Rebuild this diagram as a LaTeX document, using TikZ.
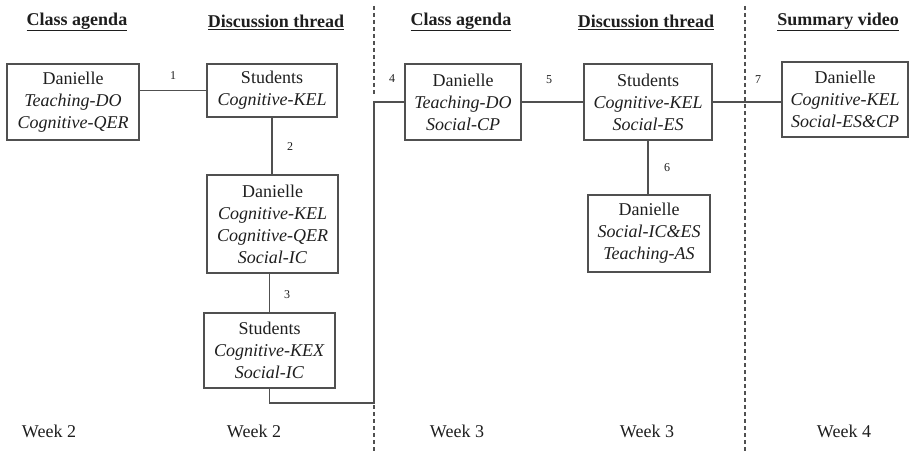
\documentclass[tikz,border=0pt]{standalone}
\usepackage{fontspec}
\setmainfont{Liberation Serif}
\usetikzlibrary{calc}
\definecolor{ln}{HTML}{505050}
\definecolor{tx}{HTML}{1E1E1E}
\begin{document}
\begin{tikzpicture}[x=1pt,y=-1pt,
  box/.style={draw=ln,line width=1.3pt,rectangle,inner sep=0pt,align=center,text=tx,
     font=\fontsize{18}{22}\selectfont},
  conn/.style={draw=ln,line width=1.3pt},
  divider/.style={draw=ln,line width=1.2pt,dash pattern=on 4pt off 3pt},
  head/.style={font=\fontsize{18}{22}\selectfont\bfseries,text=tx,inner sep=0pt},
  week/.style={font=\fontsize{18}{22}\selectfont,text=tx,inner sep=0pt},
  num/.style={font=\fontsize{12}{14}\selectfont,text=tx,inner sep=0pt}]
\useasboundingbox (0,0) rectangle (910,452);
% dividers
\draw[divider] (374,6) -- (374,452);
\draw[divider] (745,6) -- (745,452);
% headings
\node[head] (h1) at (77,22) {\underline{Class agenda}};
\node[head] (h2) at (276,22) {\underline{Discussion thread}};
\node[head] (h3) at (461,22) {\underline{Class agenda}};
\node[head] (h4) at (646,22) {\underline{Discussion thread}};
\node[head] (h5) at (838,22) {\underline{Summary video}};
% boxes
\node[box,minimum width=132pt,minimum height=76pt] (A) at (73,102) {Danielle\\\textit{Teaching-DO}\\\textit{Cognitive-QER}};
\node[box,minimum width=130pt,minimum height=53pt] (B) at (272,90.5) {Students\\\textit{Cognitive-KEL}};
\node[box,minimum width=131pt,minimum height=98pt] (C) at (272.5,224) {Danielle\\\textit{Cognitive-KEL}\\\textit{Cognitive-QER}\\\textit{Social-IC}};
\node[box,minimum width=131pt,minimum height=75pt] (D) at (269.5,350.5) {Students\\\textit{Cognitive-KEX}\\\textit{Social-IC}};
\node[box,minimum width=116pt,minimum height=76pt] (E) at (463,102) {Danielle\\\textit{Teaching-DO}\\\textit{Social-CP}};
\node[box,minimum width=128pt,minimum height=76pt] (F) at (648,102) {Students\\\textit{Cognitive-KEL}\\\textit{Social-ES}};
\node[box,minimum width=122pt,minimum height=77pt] (G) at (649,233.5) {Danielle\\\textit{Social-IC\&ES}\\\textit{Teaching-AS}};
\node[box,minimum width=126pt,minimum height=75pt] (H) at (845,99.5) {Danielle\\\textit{Cognitive-KEL}\\\textit{Social-ES\&CP}};
% connectors
\draw[conn] (A.east |- B.west) -- (B.west);
\draw[conn] (B.south) -- (B.south |- C.north);
\draw[conn] (D.north |- C.south) -- (D.north);
\coordinate (v1) at (374,403);
\fill[white] (371,96) rectangle (377,405);
\draw[conn] (D.south) |- (v1) -- (v1 |- E.west) -- (E.west);
\draw[conn] (E.east) -- (F.west);
\draw[conn] (F.south) -- (F.south |- G.north);
\draw[conn] (F.east) -- (F.east -| H.west);
% numbers
\node[num] (n1) at (173,76) {1};
\node[num] (n2) at (290,147) {2};
\node[num] (n3) at (287,295) {3};
\node[num] (n4) at (392,79) {4};
\node[num] (n5) at (549,80) {5};
\node[num] (n6) at (667,168) {6};
\node[num] (n7) at (758,80) {7};
% weeks
\node[week] (w1) at (49,431) {Week 2};
\node[week] (w2) at (254,431) {Week 2};
\node[week] (w3) at (457,431) {Week 3};
\node[week] (w4) at (647,431) {Week 3};
\node[week] (w5) at (844,431) {Week 4};
\end{tikzpicture}
\end{document}
